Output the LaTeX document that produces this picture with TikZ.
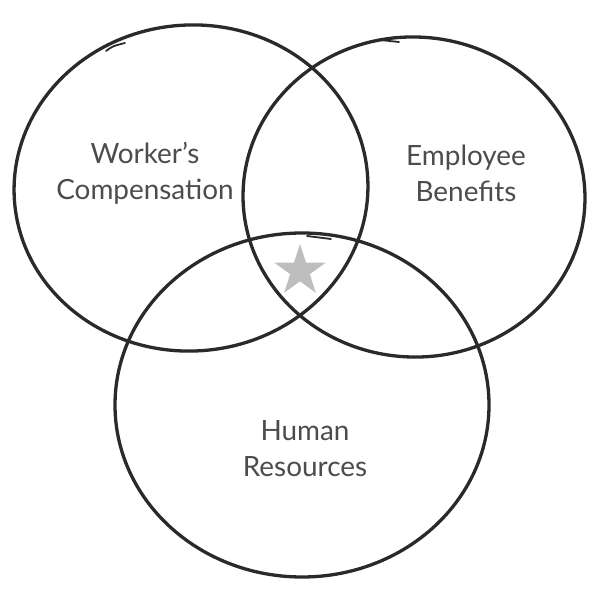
\documentclass[tikz,border=0pt]{standalone}
\usepackage{fontspec}
\setsansfont{Lato}
\usetikzlibrary{shapes.geometric}
\definecolor{ringgray}{HTML}{2A2A2A}
\definecolor{labelgray}{HTML}{4C4C4C}
\definecolor{stargray}{HTML}{BEBEBE}

\begin{document}
\begin{tikzpicture}[x=1bp, y=-1bp,
            every node/.style={font=\sffamily\fontsize{28}{36}\selectfont, text=labelgray, align=center, inner sep=0pt},
            ring/.style={draw=ringgray, line width=3.3bp},
            seam/.style={draw=ringgray, line width=1.8bp, line cap=round}]
        \useasboundingbox (0,0) rectangle (600,615);
        % the three sets
        \draw[ring, rotate around={4:(191,188)}] (191,188) ellipse [x radius=177, y radius=163];
        \draw[ring, rotate around={-3:(414,197)}] (414,197) ellipse [x radius=171, y radius=160];
        \draw[ring] (302,405) ellipse [x radius=187, y radius=172];
        % pen overlaps
        \draw[seam] (106,51) .. controls (113,46) .. (125,43);
        \draw[seam] (380,40) -- (399,42);
        \draw[seam] (307,236) -- (331,239);
        % labels
        \node (comp) at (145,173) {Worker’s\\Compensation};
        \node (bene) at (466,173) {Employee\\Benefits};
        \node (hr) at (305,449) {Human\\Resources};
        \node[star, star points=5, star point ratio=2.618, minimum size=54bp, fill=stargray] (core) at (300,271) {};
\end{tikzpicture}
\end{document}
